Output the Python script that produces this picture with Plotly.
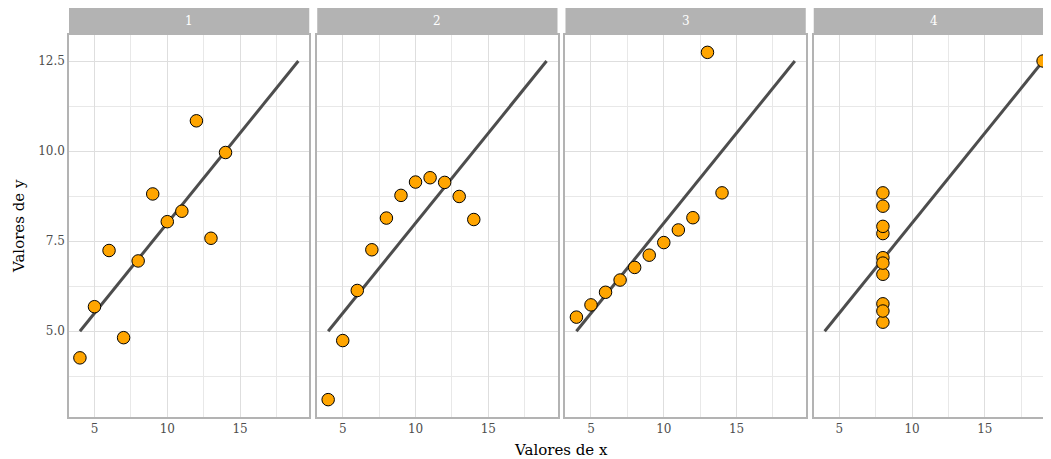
import plotly.graph_objects as go

groups = ["1", "2", "3", "4"]
x123 = [10, 8, 13, 9, 11, 14, 6, 4, 12, 7, 5]
x4 = [8, 8, 8, 8, 8, 8, 8, 19, 8, 8, 8]
y1 = [8.04, 6.95, 7.58, 8.81, 8.33, 9.96, 7.24, 4.26, 10.84, 4.82, 5.68]
y2 = [9.14, 8.14, 8.74, 8.77, 9.26, 8.10, 6.13, 3.10, 9.13, 7.26, 4.74]
y3 = [7.46, 6.77, 12.74, 7.11, 7.81, 8.84, 6.08, 5.39, 8.15, 6.42, 5.73]
y4 = [6.58, 5.76, 7.71, 8.84, 8.47, 7.04, 5.25, 12.50, 5.56, 7.91, 6.89]
xs = [x123, x123, x123, x4]
ys = [y1, y2, y3, y4]
line_x = [4, 19]
intercept, slope = 3.0, 0.5

FONT = "DejaVu Serif"
gap = 8
panel_w = 240.5
ml, mr, mt, mb = 60.5, 1, 27, 42
pw = 4 * panel_w + 3 * gap
W = int(ml + pw + mr + 0.5)
mr = W - ml - pw
H = 451
ph = H - mt - mb

fig = go.Figure()
for i, g in enumerate(groups):
    k = "" if i == 0 else str(i + 1)
    x0 = i * (panel_w + gap) / pw
    x1 = (i * (panel_w + gap) + panel_w) / pw
    fig.add_trace(go.Scatter(
        x=line_x, y=[intercept + slope * v for v in line_x], mode="lines",
        line=dict(color="#4d4d4d", width=3), xaxis="x" + k, yaxis="y" + k,
        showlegend=False, hoverinfo="skip"))
    fig.add_trace(go.Scatter(
        x=xs[i], y=ys[i], mode="markers",
        marker=dict(color="#FFA500", size=12.5, line=dict(color="black", width=1)),
        xaxis="x" + k, yaxis="y" + k, showlegend=False, cliponaxis=False))
    fig.layout["xaxis" + k] = dict(
        domain=[x0, x1], range=[3.25, 19.75], anchor="y" + k,
        tickvals=[5, 10, 15], ticks="", showgrid=True, gridcolor="#dedede", gridwidth=1,
        minor=dict(tickvals=[7.5, 12.5, 17.5], showgrid=True, gridcolor="#e8e8e8", gridwidth=1),
        showline=True, linecolor="#b3b3b3", linewidth=1.5, mirror=True, zeroline=False,
        tickfont=dict(family=FONT, size=12, color="#4d4d4d"))
    fig.layout["yaxis" + k] = dict(
        domain=[0, 1], range=[2.618, 13.222], anchor="x" + k,
        tickvals=[5, 7.5, 10, 12.5], ticktext=["5.0", "7.5", "10.0", "12.5"],
        showticklabels=(i == 0), ticks="", showgrid=True, gridcolor="#dedede", gridwidth=1,
        minor=dict(tickvals=[3.75, 6.25, 8.75, 11.25], showgrid=True, gridcolor="#e8e8e8", gridwidth=1),
        showline=True, linecolor="#b3b3b3", linewidth=1.5, mirror=True, zeroline=False,
        tickfont=dict(family=FONT, size=12, color="#4d4d4d"))
    fig.add_shape(type="rect", xref="paper", yref="paper", x0=x0, x1=x1,
                  y0=1, y1=1 + 27 / ph, fillcolor="#b3b3b3", line=dict(width=0), layer="below")
    fig.add_annotation(text=g, xref="paper", yref="paper", x=(x0 + x1) / 2, y=1 + 13.5 / ph,
                       xanchor="center", yanchor="middle",
                       showarrow=False, font=dict(family=FONT, size=12, color="white"))

fig.add_annotation(text="Valores de x", xref="paper", yref="paper", x=(561 - 8 - ml) / pw, y=-33 / ph,
                   xanchor="center", yanchor="middle", showarrow=False,
                   font=dict(family=FONT, size=15, color="black"))
fig.add_annotation(text="Valores de y", xref="paper", yref="paper", x=-50 / pw, y=0.5,
                   xanchor="center", yanchor="middle", textangle=-90, showarrow=False,
                   font=dict(family=FONT, size=15, color="black"))

fig.update_layout(width=W, height=H, margin=dict(l=ml, r=mr, t=mt, b=mb),
                  plot_bgcolor="white", paper_bgcolor="white",
                  font=dict(family=FONT))
fig.write_html("out.html")
